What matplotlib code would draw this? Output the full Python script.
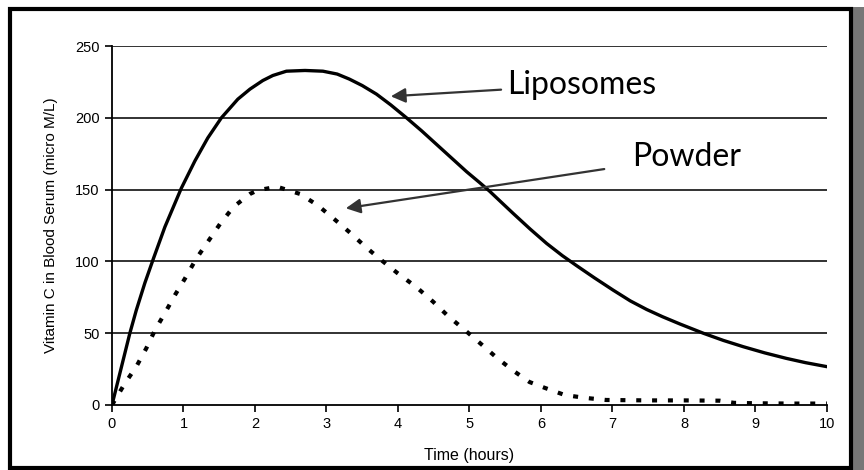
import matplotlib
matplotlib.use('Agg')
import matplotlib.pyplot as plt
from matplotlib.patches import Rectangle

# Liposomes curve (time in hours, micro M/L)
lipo_t = [0, 0.13, 0.25, 0.34, 0.46, 0.58, 0.74, 0.97, 1.16, 1.34, 1.53, 1.76,
          1.93, 2.11, 2.25, 2.44, 2.7, 2.95, 3.15, 3.32, 3.5, 3.7, 3.9, 4.12,
          4.33, 4.54, 4.75, 4.96, 5.14, 5.28, 5.45, 5.61, 5.85, 6.08, 6.3, 6.5,
          6.75, 7.01, 7.25, 7.48, 7.7, 7.94, 8.27, 8.55, 8.83, 9.13, 9.43,
          9.7, 10.0]
lipo_v = [0, 26, 50, 66, 85, 102, 124, 151, 170, 186, 200, 213,
          220, 226, 229.5, 232.5, 233, 232.5, 230.5, 227, 222.5, 216.5, 209, 200,
          191, 181.5, 172, 162.5, 155, 149, 141, 133.5, 122.5, 112.5, 104, 97,
          88.5, 80, 72.5, 66.5, 61.5, 56.5, 50, 45, 40.6, 36.3, 32.5,
          29.5, 26.7]

# Powder curve
powder_t = [0, 0.18, 0.34, 0.48, 0.6, 0.74, 0.88, 1.02, 1.18, 1.34, 1.51, 1.7,
            1.93, 2.04, 2.31, 2.63, 2.88, 3.12, 3.33, 3.55, 3.74, 3.99, 4.26,
            4.49, 4.7, 4.94, 5.15, 5.38, 5.61, 5.84, 6.05, 6.33, 6.61, 6.91,
            7.5, 8.0, 8.5, 8.7, 9.0, 9.5, 10.0]
powder_v = [0, 15, 26.7, 39.5, 52, 64, 76.5, 88, 102, 113.6, 126, 138,
            147, 149.6, 152, 147, 139, 129, 120, 110, 102, 92, 82,
            72, 62, 52, 43, 33, 24, 16, 12, 7, 5, 3.5,
            3.2, 3.2, 3.0, 1.5, 1.2, 1.0, 1.0]

x_ticks = list(range(0, 11))
y_ticks = [0, 50, 100, 150, 200, 250]

fig = plt.figure(figsize=(8.64, 4.70), dpi=100)

# picture frame with a shadow on the right
fig.patches.append(Rectangle((0.9855, 0.0), 0.0145, 0.985, transform=fig.transFigure,
                             facecolor='#777777', edgecolor='none', zorder=-2))
fig.patches.append(Rectangle((0.012, 0.005), 0.973, 0.975, transform=fig.transFigure,
                             facecolor='white', edgecolor='black', lw=3, zorder=-1))

ax = fig.add_axes([0.1296, 0.1383, 0.8275, 0.7637])
ax.set_zorder(1)

for y in y_ticks[1:]:
    ax.axhline(y, color='#222222', lw=1.3, zorder=1)

ax.plot(lipo_t, lipo_v, color='black', lw=2.4, zorder=3, solid_joinstyle='round')
ax.plot(powder_t, powder_v, color='black', lw=3, linestyle=(0, (1.2, 2.6)), zorder=3)

ax.set_xlim(0, 10)
ax.set_ylim(0, 250)
ax.set_xticks(x_ticks)
ax.set_yticks(y_ticks)
for s in ['top', 'right']:
    ax.spines[s].set_visible(False)
for s in ['left', 'bottom']:
    ax.spines[s].set_linewidth(1.3)
ax.tick_params(direction='out', length=5, width=1.2, labelsize=10.5, pad=4)
for lbl in ax.get_xticklabels() + ax.get_yticklabels():
    lbl.set_family('Liberation Sans')

ax.set_xlabel('Time (hours)', family='Liberation Sans', fontsize=11.5, labelpad=12)
ax.set_ylabel('Vitamin C in Blood Serum (micro M/L)', family='Liberation Sans',
              fontsize=11, labelpad=12)

ax.annotate('Liposomes', xy=(3.9, 215), xytext=(5.52, 223),
            fontsize=23, family='Lato', va='center', ha='left',
            arrowprops=dict(arrowstyle='-|>', color='#333333', lw=1.6,
                            mutation_scale=22, shrinkA=2, shrinkB=0))
ax.annotate('Powder', xy=(3.27, 137), xytext=(7.27, 173),
            fontsize=23, family='Lato', va='center', ha='left',
            arrowprops=dict(arrowstyle='-|>', color='#333333', lw=1.6,
                            mutation_scale=22, shrinkA=18, shrinkB=0))

fig.savefig('out.png', dpi=100)
